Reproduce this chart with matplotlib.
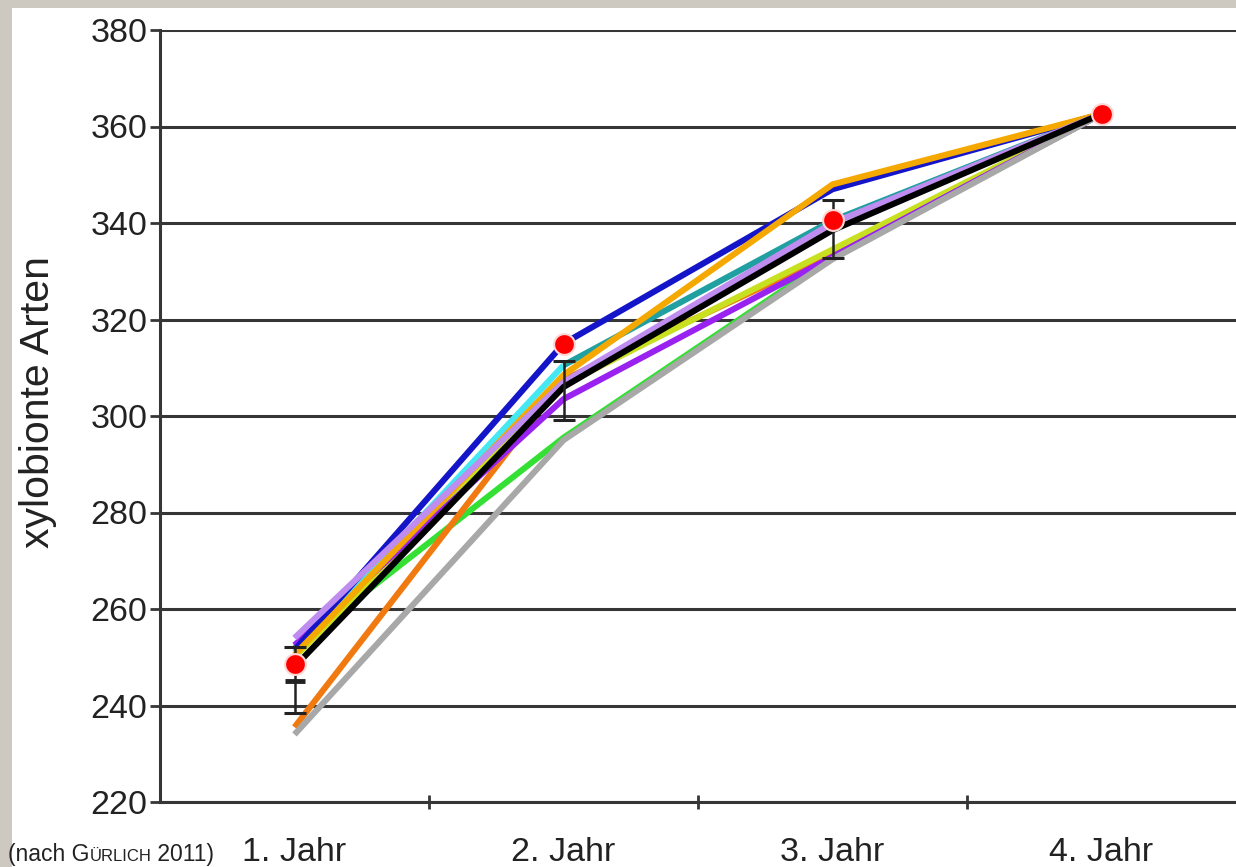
import numpy as np
import matplotlib
matplotlib.use('Agg')
import matplotlib.pyplot as plt
from matplotlib.patches import Rectangle
from matplotlib import rcParams

rcParams['font.family'] = ['Liberation Sans', 'DejaVu Sans']

# --- data ---
jahre = ['1. Jahr', '2. Jahr', '3. Jahr', '4. Jahr']

blue = [251.5, 315.0, 347.0, 362.6]
cyan = [251.0, 310.5, np.nan, np.nan]
teal = [np.nan, 310.5, 340.5, 362.6]
violet = [252.5, 303.5, 333.0, 362.6]
lavender = [254.0, 307.0, 340.0, 362.6]
black = [248.0, 306.0, 338.5, 362.6]
green = [252.0, 295.5, 333.0, 362.6]
yellowgreen = [250.0, 306.5, 334.5, 362.6]
gold = [250.5, 308.5, 348.0, 362.6]
orange = [235.5, 307.5, 333.5, 362.6]
gray = [234.0, 295.0, 332.5, 362.6]

beobachtet = [248.5, 315.0, 340.6, 362.6]

err_mid = [245.0, 305.5, 338.8]
err_low = [238.5, 299.2, 332.7]
err_high = [252.1, 311.5, 344.8]

C_TEXT = '#222222'
C_GRID = '#363636'

# draw order: bottom first
kurven = [
    (green, '#33e033'),
    (orange, '#f07a10'),
    (yellowgreen, '#c8e020'),
    (violet, '#9a22f0'),
    (gray, '#a8a8a8'),
    (cyan, '#44e8f2'),
    (teal, '#20a0a0'),
    (blue, '#1414c8'),
    (gold, '#f5a800'),
    (lavender, '#bf8cf0'),
    (black, '#000000'),
]

fig = plt.figure(figsize=(12.36, 8.67), dpi=100)
fig.patch.set_facecolor('#cdc8c0')
fig.patches.append(Rectangle((12 / 1236, 0), 1, 1 - 8 / 867, transform=fig.transFigure,
                             facecolor='white', edgecolor='none', zorder=-10))

ax = fig.add_axes([160 / 1236, 1 - 802 / 867, 1 - 160 / 1236, 772 / 867])
ax.set_facecolor('white')

x = np.arange(len(jahre))

for vals, col in kurven:
    ax.plot(x, vals, '-', color=col, linewidth=4.4, solid_capstyle='butt', zorder=3)

ax.errorbar(x[:3], err_mid,
            yerr=[np.array(err_mid) - np.array(err_low), np.array(err_high) - np.array(err_mid)],
            fmt='none', ecolor=C_TEXT, elinewidth=1.8, capsize=8, capthick=2.2, zorder=4)
# thick mark on the first bar
ax.plot(x[:1], err_mid[:1], '_', color=C_TEXT, markersize=14, markeredgewidth=3.5, zorder=4)

ax.plot(x, beobachtet, 'o', color='#ff0000', markersize=15,
        markeredgecolor='#ffd6d6', markeredgewidth=1.5, zorder=5)

ax.set_xlim(-0.5, 3.5)
ax.set_ylim(220, 380)
ax.set_yticks(np.arange(220, 381, 20))
ax.yaxis.grid(True, color=C_GRID, linewidth=2.2)
ax.set_axisbelow(True)

ax.set_xticks([0.5, 1.5, 2.5])
ax.set_xticklabels([])
ax.set_xticks(x, minor=True)
ax.set_xticklabels(jahre, minor=True)
ax.tick_params(axis='x', which='major', direction='inout', length=10, width=2, color=C_GRID)
ax.tick_params(axis='x', which='minor', length=0, pad=25, labelsize=24.5, labelcolor=C_TEXT)
ax.tick_params(axis='y', direction='out', length=7, width=2, color=C_GRID,
               pad=2, labelsize=24.5, labelcolor=C_TEXT)

for s in ['top', 'right']:
    ax.spines[s].set_visible(False)
for s in ['left', 'bottom']:
    ax.spines[s].set_color(C_GRID)
    ax.spines[s].set_linewidth(2.2)

fig.text(38 / 1236, 1 - 402 / 867, 'xylobionte Arten', rotation=90,
         ha='center', va='center', fontsize=29.5, color=C_TEXT)

# source note with small caps
fig.canvas.draw()
r = fig.canvas.get_renderer()
xpos = 8
ybase = 1 - 861 / 867
for part, size in [('(nach G', 16.5), ('ÜRLICH', 12), (' 2011)', 16.5)]:
    t = fig.text(xpos / 1236, ybase, part, fontsize=size, color=C_TEXT, va='baseline')
    xpos = t.get_window_extent(renderer=r).x1

fig.savefig('out.png', dpi=100)
